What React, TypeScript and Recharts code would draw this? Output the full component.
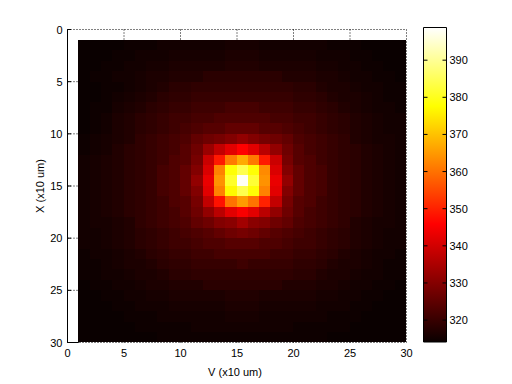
import {
  ScatterChart,
  Scatter,
  XAxis,
  YAxis,
  CartesianGrid,
  ReferenceLine,
  BarChart,
  Bar,
} from "recharts";

const FONT = "'Liberation Sans', Arial, sans-serif";

const xTicks = [0, 5, 10, 15, 20, 25, 30];
const yTicks = [0, 5, 10, 15, 20, 25, 30];
const barTicks = [320, 330, 340, 350, 360, 370, 380, 390];
const barRange = [314.1, 398.8];

// temperature grid, rows 1..29 top to bottom, columns 1..29 left to right
const heatRows = [
  [314,314,314,314,314.6,314.6,314.6,315.2,315.2,315.2,315.2,315.2,315.2,315.7,315.7,315.7,315.2,315.2,315.2,315.2,315.2,315.2,314.6,314.6,314.6,314,314,314,314],
  [314,314,314,314.6,314.6,315.2,315.2,315.2,315.7,315.7,315.7,315.7,315.7,316.3,316.3,316.3,315.7,315.7,315.7,315.7,315.7,315.2,315.2,315.2,314.6,314.6,314,314,314],
  [314,314,314.6,314.6,315.2,315.2,315.7,315.7,316.3,316.3,316.3,316.3,316.3,317,317,317,316.3,316.3,316.3,316.3,316.3,315.7,315.7,315.2,315.2,314.6,314.6,314,314],
  [314,314.6,314.6,315.2,315.2,315.7,316.3,316.3,317,317,317,318,318,318,318,318,318,318,317,317,317,316.3,316.3,315.7,315.2,315.2,314.6,314.6,314],
  [314,314,314.6,314.6,315.2,315.7,316.3,317,318,318,318.7,318.7,318.7,318.7,318.7,318.7,318.7,318.7,318.7,318,318,317,316.3,316.3,315.7,315.2,315.2,314.6,314.6],
  [314,314,314.6,315.2,315.7,316.3,317,318,318.7,318.7,319.5,319.5,319.5,319.5,319.5,319.5,319.5,319.5,319.5,318.7,318.7,318,317,316.3,316.3,315.7,315.2,314.6,314.6],
  [314,314.6,314.6,315.7,316.3,317,318,318.7,319.5,319.5,320.5,320.5,320.5,321.5,321.5,321.5,320.5,320.5,320.5,319.5,319.5,318.7,318,317,316.3,315.7,315.2,315.2,314.6],
  [314,314.6,315.2,316.3,317,318,318.7,319.5,320.5,320.5,321.5,321.5,322.5,322.5,322.5,322.5,322.5,321.5,321.5,320.5,320.5,319.5,318.7,318,317,316.3,315.7,315.2,315.2],
  [314,314.6,315.2,316.3,317,318,318.7,319.5,320.5,321.5,322.5,323.5,323.5,325,325,325,323.5,323.5,322.5,321.5,320.5,319.5,318.7,318,317,316.3,315.7,315.2,315.2],
  [314.6,315.2,315.7,316.3,317,318.7,319.5,320.5,321.5,322.5,325,326.5,327.5,329,331,329,327.5,326.5,325,322.5,321.5,320.5,319.5,318.7,317,316.3,315.7,315.7,315.2],
  [314.6,315.2,315.7,317,318,318.7,319.5,320.5,321.5,323.5,326.5,332,337,341,345,341,336,331,326.5,323.5,321.5,320.5,319.5,318.7,318,317,316.3,315.7,315.2],
  [315.2,315.7,316.3,317,318,318.7,319.5,320.5,322.5,323.5,327.5,338,349,361,367,361,349,338,327.5,323.5,322.5,320.5,319.5,318.7,318,317,316.3,315.7,315.2],
  [315.2,315.7,316.3,317,318,318.7,319.5,321.5,322.5,325,329,340,362,378,384,378,363,340,329,325,322.5,321.5,319.5,318.7,318,317,316.3,315.7,315.2],
  [315.2,315.7,316.3,317,318,318.7,319.5,321.5,322.5,325,331,342,364,381,398,382,364,342,331,325,322.5,321.5,319.5,318.7,318,317,316.3,315.7,315.2],
  [315.2,315.7,316.3,317,318,318.7,319.5,321.5,322.5,325,329,341,362,377,384,378,362,341,329,325,322.5,321.5,319.5,318.7,318,317,316.3,315.7,315.2],
  [315.2,315.7,316.3,317,318,318.7,319.5,320.5,322.5,323.5,327.5,337,348,360,365,360,350,337,327.5,323.5,322.5,320.5,319.5,318.7,318,317,316.3,315.7,315.2],
  [315.2,315.7,316.3,317,318,318.7,319.5,320.5,321.5,323.5,326.5,331,336,341,344,341,336,331,326.5,323.5,321.5,320.5,319.5,318.7,318,317,316.3,315.7,315.2],
  [315.2,315.7,315.7,316.3,317,318.7,319.5,320.5,321.5,322.5,325,326.5,329,330,333,330,329,326.5,325,322.5,321.5,320.5,319.5,318.7,317,316.3,315.7,315.7,315.2],
  [315.2,315.2,315.7,316.3,317,318,318.7,319.5,320.5,321.5,322.5,323.5,325,326.5,327.5,326.5,325,323.5,322.5,321.5,320.5,319.5,318.7,318,317,316.3,315.7,315.2,315.2],
  [315.2,315.2,315.7,316.3,317,318,318.7,319.5,320.5,320.5,321.5,322.5,322.5,323.5,323.5,323.5,322.5,322.5,321.5,320.5,320.5,319.5,318.7,318,317,316.3,315.7,315.2,315.2],
  [314.6,315.2,315.2,315.7,316.3,317,318,318.7,319.5,319.5,320.5,320.5,321.5,321.5,321.5,321.5,321.5,320.5,320.5,319.5,319.5,318.7,318,317,316.3,315.7,315.2,315.2,314.6],
  [314.6,314.6,315.2,315.7,316.3,316.3,317,318,318.7,318.7,319.5,319.5,319.5,319.5,320.5,319.5,319.5,319.5,319.5,318.7,318.7,318,317,316.3,316.3,315.7,315.2,314.6,314.6],
  [314.6,314.6,315.2,315.2,315.7,316.3,316.3,317,318,318,318.7,318.7,318.7,318.7,318.7,318.7,318.7,318.7,318.7,318,318,317,316.3,316.3,315.7,315.2,315.2,314.6,314.6],
  [314,314.6,314.6,315.2,315.2,315.7,316.3,316.3,317,317,317,318,318,318,318,318,318,318,317,317,317,316.3,316.3,315.7,315.2,315.2,314.6,314.6,314],
  [314,314,314.6,314.6,315.2,315.2,315.7,315.7,316.3,316.3,316.3,316.3,316.3,317,317,317,316.3,316.3,316.3,316.3,316.3,315.7,315.7,315.2,315.2,314.6,314.6,314,314],
  [314,314,314,314.6,314.6,315.2,315.2,315.2,315.7,315.7,315.7,315.7,315.7,316.3,316.3,316.3,315.7,315.7,315.7,315.7,315.7,315.2,315.2,315.2,314.6,314.6,314,314,314],
  [314,314,314,314,314.6,314.6,314.6,315.2,315.2,315.2,315.2,315.2,315.2,315.7,315.7,315.7,315.2,315.2,315.2,315.2,315.2,315.2,314.6,314.6,314.6,314,314,314,314],
  [314,314,314,314,314,314.6,314.6,314.6,314.6,314.6,315.2,315.2,315.2,315.2,315.2,315.2,315.2,315.2,315.2,314.6,314.6,314.6,314.6,314.6,314,314,314,314,314],
  [314,314,314,314,314,314,314,314.6,314.6,314.6,314.6,314.6,314.6,314.6,314.6,314.6,314.6,314.6,314.6,314.6,314.6,314.6,314,314,314,314,314,314,314],
];

const cells = heatRows.flatMap((row, r) =>
  row.map((value, c) => ({ x: c + 1.5, y: r + 1.5, value }))
);

const CHART_W = 512;
const CHART_H = 384;
const PLOT_W = 339;
const PLOT_H = 313;

// matlab "hot" colormap
const hot = (value: number) => {
  const t = Math.min(1, Math.max(0, (value - barRange[0]) / (barRange[1] - barRange[0])));
  const r = Math.min(1, 0.04 + t / 0.375);
  const g = Math.min(1, Math.max(0, (t - 0.375) / 0.375));
  const b = Math.min(1, Math.max(0, (t - 0.75) / 0.25));
  return `rgb(${Math.round(r * 255)},${Math.round(g * 255)},${Math.round(b * 255)})`;
};

const HeatCell = (props: any) => {
  const { cx, cy, payload } = props;
  const w = PLOT_W / 30;
  const h = PLOT_H / 30;
  // small nudge so neighbouring cells round to the same edge
  const x0 = Math.floor(cx - w / 2 + 0.001);
  const x1 = Math.floor(cx + w / 2 + 0.001);
  const y0 = Math.round(cy - h / 2 - 0.1);
  const y1 = Math.round(cy + h / 2 - 0.1);
  return (
    <rect
      x={x0}
      y={y0}
      width={x1 - x0}
      height={y1 - y0}
      fill={hot(payload.value)}
      shapeRendering="crispEdges"
    />
  );
};

const XTick = ({ x, y, payload }: any) => (
  <text x={x} y={y + 9} textAnchor="middle" fontSize={11} fontFamily={FONT} fill="#000">
    {payload.value}
  </text>
);

const YTick = ({ x, y, payload }: any) => (
  <g>
    <line x1={x + 5} x2={x + 8.5} y1={y} y2={y} stroke="#000" />
    <text x={x} y={y + 4} textAnchor="end" fontSize={11} fontFamily={FONT} fill="#000">
      {payload.value}
    </text>
  </g>
);

const BarTick = ({ x, y, payload }: any) => (
  <g>
    <line x1={x - 26} x2={x - 22} y1={y} y2={y} stroke="#000" />
    <line x1={x - 7} x2={x - 3} y1={y} y2={y} stroke="#000" />
    <text x={x} y={y + 4} textAnchor="start" fontSize={11} fontFamily={FONT} fill="#000">
      {payload.value}
    </text>
  </g>
);

export default function App() {
  return (
    <div style={{ position: "absolute", left: 0, top: 0, width: CHART_W, height: CHART_H, background: "#fff" }}>
      <div style={{ position: "absolute", left: 0, top: 0 }}>
        <ScatterChart
          width={CHART_W}
          height={CHART_H}
          margin={{ left: 27.5, top: 29.5, right: 105.5, bottom: 11.5 }}
        >
          <CartesianGrid stroke="#000" strokeDasharray="1 2" />
          <XAxis
            type="number"
            dataKey="x"
            domain={[0, 30]}
            ticks={xTicks}
            height={30}
            tickLine={false}
            tickSize={0}
            tickMargin={5}
            axisLine={false}
            tick={<XTick />}
            label={{ value: "V (x10 um)", position: "center", dx: -2, dy: 15, fontSize: 11, fontFamily: FONT, fill: "#000" }}
          />
          <YAxis
            type="number"
            dataKey="y"
            reversed
            domain={[0, 30]}
            ticks={yTicks}
            width={40}
            tickLine={false}
            tickSize={0}
            tickMargin={5}
            axisLine={{ stroke: "#000" }}
            tick={<YTick />}
            label={{ value: "X (x10 um)", position: "center", angle: -90, dx: -7.5, fontSize: 11, fontFamily: FONT, fill: "#000" }}
          />
          <Scatter data={cells} isAnimationActive={false} shape={HeatCell} />
          <ReferenceLine
            segment={[
              { x: 0, y: 30 },
              { x: 1, y: 30 },
            ]}
            stroke="#000"
          />
        </ScatterChart>
      </div>
      <div style={{ position: "absolute", left: 0, top: 0 }}>
        <BarChart
          width={CHART_W}
          height={CHART_H}
          data={[{ name: "scale", range: barRange }]}
          margin={{ left: 423.5, top: 27.5, right: 5.5, bottom: 42 }}
          barCategoryGap={0}
        >
          <defs>
            <linearGradient id="hotBar" x1="0" y1="1" x2="0" y2="0">
              <stop offset="0" stopColor="#0a0000" />
              <stop offset="0.375" stopColor="#ff0000" />
              <stop offset="0.75" stopColor="#ffff00" />
              <stop offset="1" stopColor="#ffffff" />
            </linearGradient>
          </defs>
          <XAxis dataKey="name" hide />
          <YAxis
            orientation="right"
            type="number"
            domain={barRange}
            ticks={barTicks}
            width={60}
            axisLine={false}
            tickLine={false}
            tickSize={0}
            tickMargin={3}
            tick={<BarTick />}
            interval={0}
          />
          <Bar dataKey="range" fill="url(#hotBar)" stroke="#000" isAnimationActive={false} />
        </BarChart>
      </div>
    </div>
  );
}
